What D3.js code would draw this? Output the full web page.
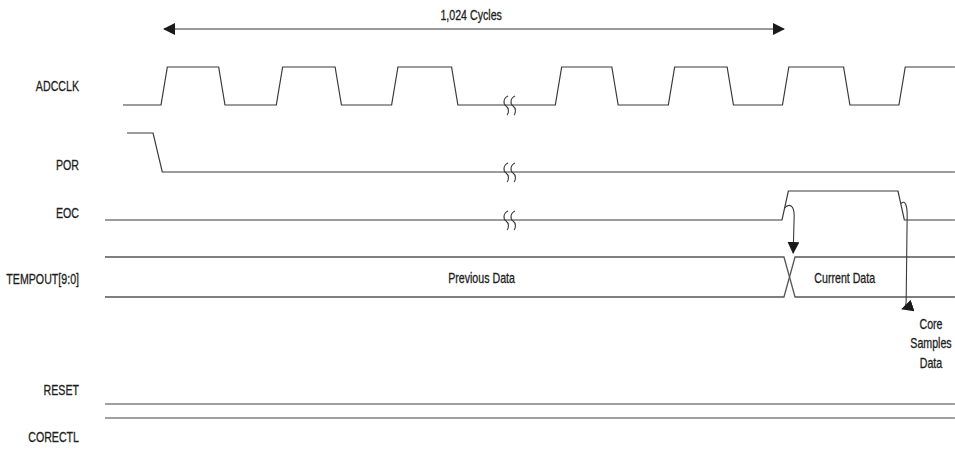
<!DOCTYPE html>
<html><head><meta charset="utf-8">
<script src="https://cdn.jsdelivr.net/npm/d3@7"></script>
<style>
body{margin:0;background:#fff;}
svg text{font-family:"Liberation Sans",Arial,sans-serif;font-size:14px;fill:#1e1e1e;stroke:#1e1e1e;stroke-width:0.3px;}
</style></head>
<body><svg id="c" width="955" height="451"></svg>
<script>
// ---- data (time in clock periods) ----
const signalNames = ["ADCCLK","POR","EOC","TEMPOUT[9:0]","RESET","CORECTL"];
const clkStart = -0.33;
const clkRise = [0, 1, 2.0, 3.42, 4.40, 5.39, 6.40];
const clkFall = [0.50, 1.51, 2.52, 3.91, 4.91, 5.92];
const porStart = -0.295;
const porFall = [-0.069];
const eocRise = [5.386];
const eocFall = [6.392];
const busCross = [5.403];
const busLabels = ["Previous Data","Current Data"];
const busLabelTimes = [2.78, 5.93];
const breakTime = 3.01;
const spanArrow = [0.026, 5.403];
const spanLabel = "1,024 Cycles";
const spanLabelTime = 2.69;
const sampleLabel = ["Core","Samples","Data"];
const leftStart = -0.486, endTime = 6.886;

// ---- layout ----
const svg = d3.select("#c");
const x = d3.scaleLinear().domain([0, 7]).range([161, 161 + 7*115.3]);
const edgeW = 0.055;
const rows = {
  ADCCLK:{hi:67, lo:105, label:87},
  POR:{hi:133, lo:172, label:166},
  EOC:{hi:191, lo:220, label:214},
  TEMPOUT:{hi:257, lo:297, label:280},
  RESET:{y:404, label:391},
  CORECTL:{y:418, label:438}
};
const labelRight = 79;
const sx = 0.76;
const line = d3.line().x(d=>x(d[0])).y(d=>d[1]);
const ink = "#3a3a3a";

function label(px, py, txt, anchor){
  svg.append("text").attr("transform",`translate(${px},${py}) scale(${sx},1)`)
    .attr("text-anchor",anchor).attr("dominant-baseline","middle").text(txt);
}

// arrow markers
const defs = svg.append("defs");
defs.append("marker").attr("id","ah").attr("viewBox","0 0 12 12").attr("refX",11).attr("refY",6)
  .attr("markerWidth",12).attr("markerHeight",12).attr("markerUnits","userSpaceOnUse").attr("orient","auto")
  .append("path").attr("d","M0,0 L12,6 L0,12 Z").attr("fill","#1a1a1a");
defs.append("marker").attr("id","ahs").attr("viewBox","0 0 12 12").attr("refX",11).attr("refY",6)
  .attr("markerWidth",12).attr("markerHeight",12).attr("markerUnits","userSpaceOnUse").attr("orient","auto-start-reverse")
  .append("path").attr("d","M0,0 L12,6 L0,12 Z").attr("fill","#1a1a1a");

// labels
const rowList = [rows.ADCCLK,rows.POR,rows.EOC,rows.TEMPOUT,rows.RESET,rows.CORECTL];
signalNames.forEach((d,i)=>label(labelRight, rowList[i].label, d, "end"));

// waveform builder
function wave(start, initLevel, edges, r){
  const pts=[[start, initLevel ? r.hi : r.lo]];
  let lvl = initLevel;
  edges.sort((a,b)=>a.t-b.t).forEach(e=>{
    pts.push([e.t, lvl ? r.hi : r.lo]);
    lvl = e.v;
    pts.push([e.t+edgeW, lvl ? r.hi : r.lo]);
  });
  pts.push([endTime, lvl ? r.hi : r.lo]);
  return pts;
}
const clkEdges = clkRise.map(t=>({t,v:1})).concat(clkFall.map(t=>({t,v:0})));
svg.append("path").attr("d",line(wave(clkStart,0,clkEdges,rows.ADCCLK))).attr("fill","none").attr("stroke",ink).attr("stroke-width",1.2);
svg.append("path").attr("d",line(wave(porStart,1,porFall.map(t=>({t:t,v:0})),rows.POR).map((p,i)=>i===2?[p[0]+0.025,p[1]]:p))).attr("fill","none").attr("stroke",ink).attr("stroke-width",1.2);
const eocEdges = eocRise.map(t=>({t,v:1})).concat(eocFall.map(t=>({t,v:0})));
svg.append("path").attr("d",line(wave(leftStart,0,eocEdges,rows.EOC))).attr("fill","none").attr("stroke",ink).attr("stroke-width",1.2);

// bus
const bw = 0.096;
const r = rows.TEMPOUT;
const c0 = busCross[0];
svg.append("path").attr("d",line([[leftStart,r.hi],[c0,r.hi],[c0+bw,r.lo],[endTime,r.lo]])).attr("fill","none").attr("stroke","#555").attr("stroke-width",1.3);
svg.append("path").attr("d",line([[leftStart,r.lo],[c0,r.lo],[c0+bw,r.hi],[endTime,r.hi]])).attr("fill","none").attr("stroke","#555").attr("stroke-width",1.3);
busLabels.forEach((d,i)=>label(x(busLabelTimes[i]), (r.hi+r.lo)/2+2, d, "middle"));

// RESET / CORECTL lines
[rows.RESET.y, rows.CORECTL.y].forEach(y=>{
  svg.append("path").attr("d",line([[leftStart,y],[endTime,y]])).attr("stroke","#808080").attr("stroke-width",1.5).attr("fill","none");
});

// break marks
function brk(t,y){
  const bx=x(t);
  [0,7].forEach(o=>{
    const cx=bx+o-3;
    svg.append("path").attr("d",`M${cx+3},${y-9} C${cx-2},${y-7} ${cx-2},${y-1} ${cx+1},${y+1} C${cx+4},${y+3} ${cx+4},${y+8} ${cx+2},${y+10}`)
      .attr("fill","none").attr("stroke",ink).attr("stroke-width",1.1);
  });
}
brk(breakTime, rows.ADCCLK.lo);
brk(breakTime, rows.POR.lo);
brk(breakTime, rows.EOC.lo);

// span arrow
svg.append("path").attr("d",line([[spanArrow[0],29],[spanArrow[1],29]])).attr("stroke","#777").attr("stroke-width",1.6)
  .attr("marker-start","url(#ahs)").attr("marker-end","url(#ah)").attr("fill","none");
label(x(spanLabelTime), 16, spanLabel, "middle");

// causal arrows
const e1 = x(eocRise[0]+edgeW/2), e2 = x(eocFall[0]+edgeW/2);
const ym = (rows.EOC.hi+rows.EOC.lo)/2;
svg.append("path").attr("d",`M${e1-1},${ym+3} C${e1+4},${ym-3} ${e1+9},${ym} ${e1+9},${ym+10} L${e1+8},${rows.TEMPOUT.hi-4}`)
  .attr("fill","none").attr("stroke",ink).attr("stroke-width",1.1).attr("marker-end","url(#ah)");
svg.append("path").attr("d",`M${e2},${ym-2} C${e2+4},${ym-6} ${e2+6},${ym} ${e2+6},${ym+10} L${e2+5},${rows.TEMPOUT.lo+4} C${e2+5},${rows.TEMPOUT.lo+9} ${e2+4},${rows.TEMPOUT.lo+11} ${e2+1},${rows.TEMPOUT.lo+12}`)
  .attr("fill","none").attr("stroke",ink).attr("stroke-width",1.1).attr("marker-end","url(#ah)");
sampleLabel.forEach((d,i)=>label(931, 325+i*19.5, d, "middle"));
</script></body></html>
